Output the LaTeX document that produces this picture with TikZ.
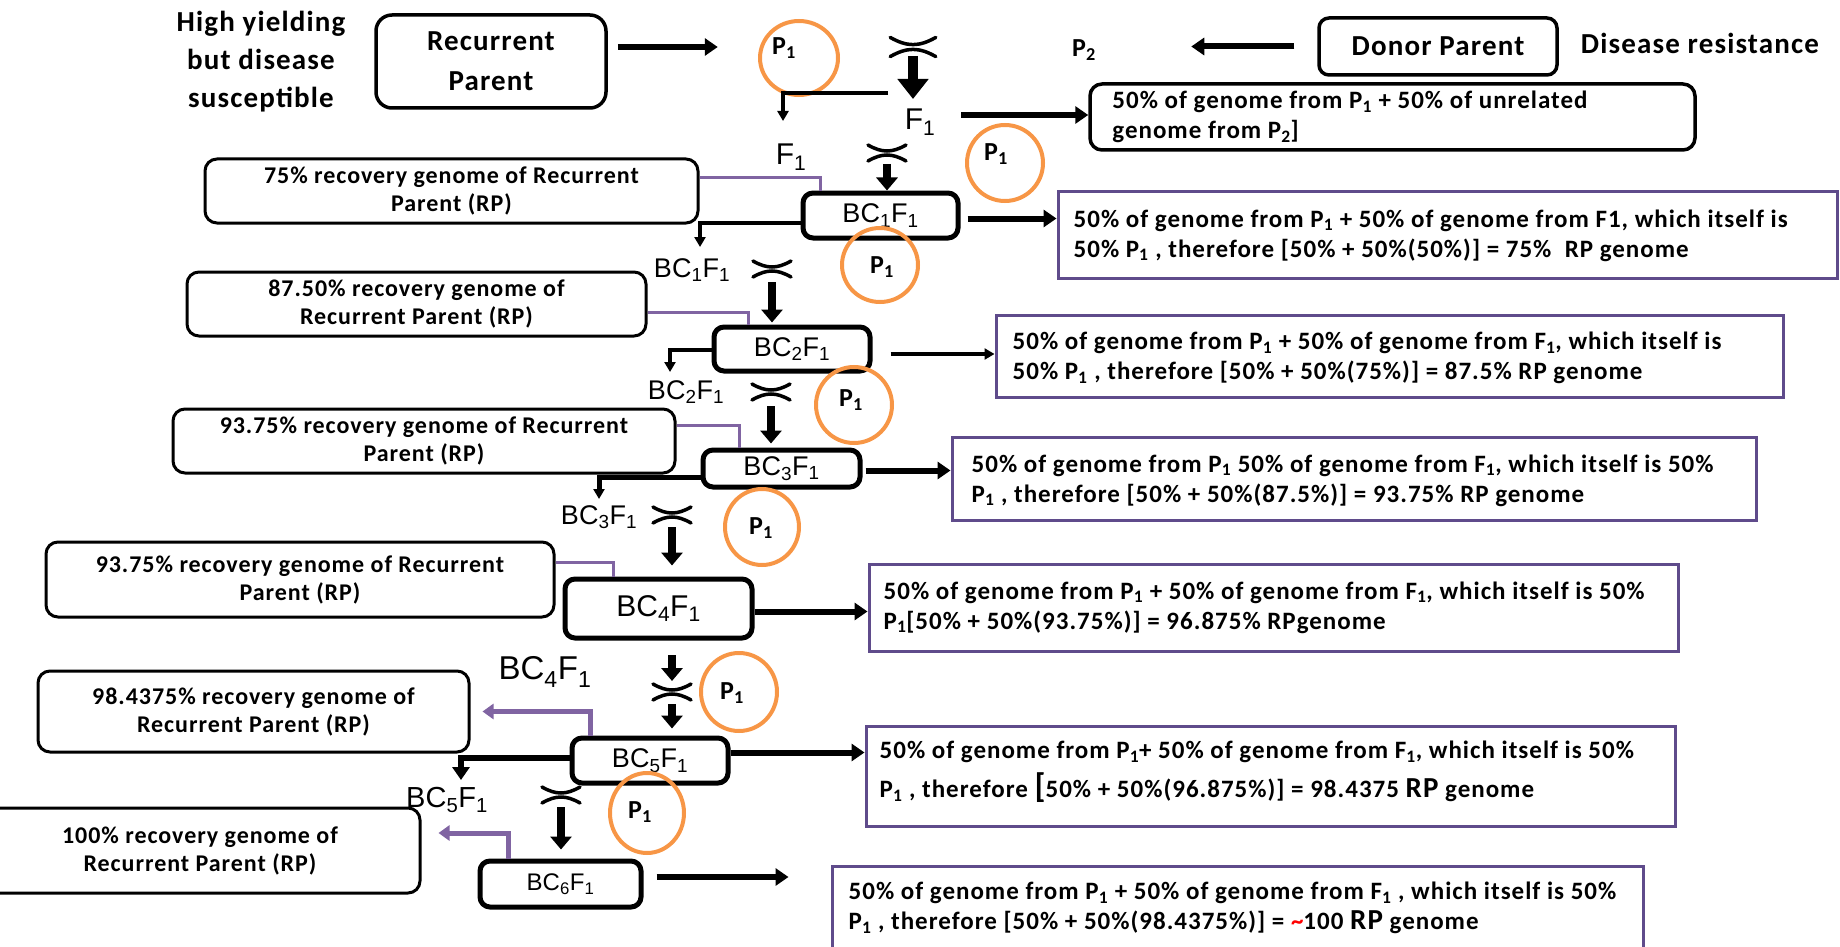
\documentclass[tikz,border=0pt]{standalone}
\usepackage{fontspec}
\setmainfont{Carlito}[LetterSpace=4]
\newfontfamily\arl{Liberation Sans}
\usetikzlibrary{arrows.meta,shapes.geometric}
\definecolor{pborder}{HTML}{5F4B8B}
\definecolor{plinec}{HTML}{8064A2}
\definecolor{orng}{HTML}{F79646}
\tikzset{
  brcross/.pic={\draw[line width=3.5pt,line cap=round] (-19,-8) .. controls (-5,0) and (5,0) .. (19,-8) (-19,8) .. controls (-5,0) and (5,0) .. (19,8);},
}
\begin{document}
\begin{tikzpicture}[x=1pt,y=-1pt,
  tlabel/.style={font=\fontsize{29}{38}\selectfont\bfseries,align=center,inner sep=0pt},
  topbox/.style={draw,line width=3.5pt,rounded corners=16pt,font=\fontsize{29}{40}\selectfont\bfseries,align=center,inner sep=0pt},
  lbox/.style={draw,line width=3pt,rounded corners=12pt,font=\fontsize{24}{28}\selectfont\bfseries,align=center,inner sep=0pt},
  bcbox/.style={draw,line width=5pt,rounded corners=10pt,font=\arl\fontsize{27}{30}\selectfont,inner sep=0pt},
  rbox/.style={draw=pborder,line width=3pt,inner sep=0pt},
  rtext/.style={font=\fontsize{25}{30}\selectfont\bfseries,align=left,anchor=west,inner sep=0pt},
  gen/.style={font=\arl\fontsize{27}{30}\selectfont,inner sep=0pt},
  pone/.style={font=\fontsize{26}{28}\selectfont\bfseries,inner sep=0pt},
  oc/.style={draw=orng,line width=4pt,ellipse,inner sep=0pt},
  harrow/.style={line width=6pt,-{Triangle[length=13pt,width=17pt]}},
  tarrow/.style={line width=3.5pt,-{Triangle[length=10pt,width=11pt]}},
  darrow/.style={line width=8pt,-{Triangle[length=13pt,width=21pt]}},
  bigdarrow/.style={line width=10pt,-{Triangle[length=20pt,width=30pt]}},
  pconn/.style={draw=plinec,line width=3pt},
  parrow/.style={draw=plinec,line width=5pt,-{Triangle[length=11pt,width=15pt]}},
]
\useasboundingbox (0,0) rectangle (1840,947);

% ---------- top row ----------
\node[tlabel] (hy) at (261,62) {High yielding\\but disease\\susceptible};
\node[topbox,minimum width=230pt,minimum height=93pt] (rp) at (491,61.5) {Recurrent\\Parent};
\node[topbox,minimum width=238pt,minimum height=57pt,rounded corners=10pt] (dp) at (1438,46.5) {Donor Parent};
\node[tlabel] (dr) at (1700,43) {Disease resistance};
\node[pone] (p1a) at (784,48) {P\textsubscript{1}};
\node[pone] (p2) at (1084,50) {P\textsubscript{2}};
\node[oc,minimum width=78pt,minimum height=74pt] (c1) at (799,58) {};

\coordinate (x0) at (913,47);
\coordinate (x1) at (887,153);
\coordinate (x2) at (772,269);
\coordinate (x3) at (771,392);
\coordinate (x4) at (672,515);
\coordinate (x5) at (672,692);
\coordinate (x6) at (561,795);
\pic[scale=1.2] at (x0) {brcross};
\pic at (x1) {brcross};
\pic at (x2) {brcross};
\pic at (x3) {brcross};
\pic at (x4) {brcross};
\pic at (x5) {brcross};
\pic at (x6) {brcross};

\node[gen,font=\arl\fontsize{30}{32}\selectfont] (f1a) at (920,122) {F\textsubscript{1}};
\node[gen,font=\arl\fontsize{30}{32}\selectfont] (f1b) at (791,157) {F\textsubscript{1}};

% ---------- central boxes ----------
\node[bcbox,minimum width=155pt,minimum height=45pt] (bc1) at (880.5,215.5) {BC\textsubscript{1}F\textsubscript{1}};
\node[bcbox,minimum width=156pt,minimum height=44pt] (bc2) at (792,349) {BC\textsubscript{2}F\textsubscript{1}};
\node[bcbox,minimum width=157pt,minimum height=37pt] (bc3) at (781.5,468.5) {BC\textsubscript{3}F\textsubscript{1}};
\node[bcbox,minimum width=187pt,minimum height=59pt,font=\arl\fontsize{30}{32}\selectfont] (bc4) at (658.5,608.5) {BC\textsubscript{4}F\textsubscript{1}};
\node[bcbox,minimum width=156pt,minimum height=45pt] (bc5) at (650,760.5) {BC\textsubscript{5}F\textsubscript{1}};
\node[bcbox,minimum width=161pt,minimum height=46pt,font=\arl\fontsize{24}{26}\selectfont] (bc6) at (560.5,884) {BC\textsubscript{6}F\textsubscript{1}};

% ---------- side labels ----------
\node[gen] (l1) at (692,270) {BC\textsubscript{1}F\textsubscript{1}};
\node[gen] (l2) at (686,392) {BC\textsubscript{2}F\textsubscript{1}};
\node[gen] (l3) at (599,517) {BC\textsubscript{3}F\textsubscript{1}};
\node[gen,font=\arl\fontsize{33}{35}\selectfont] (l4) at (545,672) {BC\textsubscript{4}F\textsubscript{1}};
\node[gen,font=\arl\fontsize{29}{31}\selectfont] (l5) at (447,800) {BC\textsubscript{5}F\textsubscript{1}};

% ---------- left boxes ----------
\node[lbox,minimum width=493pt,minimum height=64pt] (lb1) at (451.5,191) {75\% recovery genome of Recurrent\\Parent (RP)};
\node[lbox,minimum width=459pt,minimum height=64pt] (lb2) at (416.5,304) {87.50\% recovery genome of\\Recurrent Parent (RP)};
\node[lbox,minimum width=502pt,minimum height=64pt] (lb3) at (424,441) {93.75\% recovery genome of Recurrent\\Parent (RP)};
\node[lbox,minimum width=508pt,minimum height=75pt] (lb4) at (300,579.5) {93.75\% recovery genome of Recurrent\\Parent (RP)};
\node[lbox,minimum width=431pt,minimum height=81pt] (lb5) at (253.5,711.5) {98.4375\% recovery genome of\\Recurrent Parent (RP)};
\node[lbox,minimum width=440pt,minimum height=85pt] (lb6) at (200,850.5) {100\% recovery genome of\\Recurrent Parent (RP)};

% ---------- right boxes ----------
\node[draw,line width=3.5pt,rounded corners=12pt,minimum width=605pt,minimum height=66pt,inner sep=0pt] (rb1) at (1392.5,117) {};
\node[rbox,minimum width=779pt,minimum height=87pt] (rb2) at (1447.5,234.5) {};
\node[rbox,minimum width=787pt,minimum height=82pt] (rb3) at (1389.5,356) {};
\node[rbox,minimum width=804pt,minimum height=83pt] (rb4) at (1354,478.5) {};
\node[rbox,minimum width=809pt,minimum height=87pt] (rb5) at (1273.5,607.5) {};
\node[rbox,minimum width=809pt,minimum height=100pt] (rb6) at (1270.5,776) {};
\node[rbox,minimum width=811pt,minimum height=84pt] (rb7) at (1237.5,908) {};

\node[rtext] (rb1t) at ([xshift=24pt]rb1.west) {50\% of genome from P\textsubscript{1} + 50\% of unrelated\\genome from P\textsubscript{2}]};
\node[rtext] (rb2t) at ([xshift=17pt,yshift=-1pt]rb2.west) {50\% of genome from P\textsubscript{1} + 50\% of genome from F1, which itself is\\50\% P\textsubscript{1} , therefore [50\% + 50\%(50\%)] = 75\%\ \ RP genome};
\node[rtext] (rb3t) at ([xshift=18pt,yshift=-2pt]rb3.west) {50\% of genome from P\textsubscript{1} + 50\% of genome from F\textsubscript{1}, which itself is\\50\% P\textsubscript{1} , therefore [50\% + 50\%(75\%)] = 87.5\% RP genome};
\node[rtext] (rb4t) at ([xshift=21pt,yshift=-2pt]rb4.west) {50\% of genome from P\textsubscript{1} 50\% of genome from F\textsubscript{1}, which itself is 50\%\\P\textsubscript{1} , therefore [50\% + 50\%(87.5\%)] = 93.75\% RP genome};
\node[rtext] (rb5t) at ([xshift=16pt]rb5.west) {50\% of genome from P\textsubscript{1} + 50\% of genome from F\textsubscript{1}, which itself is 50\%\\P\textsubscript{1}[50\% + 50\%(93.75\%)] = 96.875\% RPgenome};
\node[rtext,font=\fontsize{25}{39}\selectfont\bfseries] (rb6t) at ([xshift=15pt,yshift=4pt]rb6.west) {50\% of genome from P\textsubscript{1}+ 50\% of genome from F\textsubscript{1}, which itself is 50\%\\P\textsubscript{1} , therefore {\fontsize{34}{39}\selectfont[}50\% + 50\%(96.875\%)] = 98.4375 {\fontsize{29}{39}\selectfont RP} genome};
\node[rtext] (rb7t) at ([xshift=18pt]rb7.west) {50\% of genome from P\textsubscript{1} + 50\% of genome from F\textsubscript{1} , which itself is 50\%\\P\textsubscript{1} , therefore [50\% + 50\%(98.4375\%)] = {\color{red}\textasciitilde}100 {\fontsize{29}{30}\selectfont RP} genome};

% ---------- orange circles with P1 ----------
\node[oc,minimum width=76pt,minimum height=76pt] (c2) at (1005,163) {};
\node[pone] (p1b) at (996,154) {P\textsubscript{1}};
\node[oc,minimum width=76pt,minimum height=74pt] (c3) at (880,265) {};
\node[pone] (p1c) at (882,267) {P\textsubscript{1}};
\node[oc,minimum width=76pt,minimum height=76pt] (c4) at (854,405) {};
\node[pone] (p1d) at (851,400) {P\textsubscript{1}};
\node[oc,minimum width=74pt,minimum height=76pt] (c5) at (762,527) {};
\node[pone] (p1e) at (761,528) {P\textsubscript{1}};
\node[oc,minimum width=76pt,minimum height=78pt] (c6) at (739,692) {};
\node[pone] (p1f) at (732,693) {P\textsubscript{1}};
\node[oc,minimum width=74pt,minimum height=80pt] (c7) at (647,813) {};
\node[pone] (p1g) at (640,812) {P\textsubscript{1}};

% ---------- horizontal connectors ----------
\draw[harrow] ([xshift=10pt,yshift=14.5pt]rp.east) -- ++(100,0);
\draw[harrow] ([xshift=-23pt]dp.west) -- ++(-103,0);
\draw[harrow] ([xshift=-127pt,yshift=2pt]rb1.west) -- ([yshift=2pt]rb1.west);
\draw[harrow,shorten <=7pt] ([yshift=-3pt]bc1.east) -- ([yshift=-3pt]bc1.east -| rb2.west);
\draw[tarrow,shorten <=18pt] ([yshift=-5pt]bc2.east) -- ([yshift=-5pt]bc2.east -| rb3.west);
\draw[harrow,shorten <=3pt] ([yshift=-2pt]bc3.east) -- ([yshift=-2pt]bc3.east -| rb4.west);
\draw[harrow] ([yshift=-3pt]bc4.east) -- ([yshift=-3pt]bc4.east -| rb5.west);
\draw[harrow] ([yshift=8pt]bc5.east) -- ([yshift=8pt]bc5.east -| rb6.west);
\draw[harrow,shorten <=13pt] ([yshift=7pt]bc6.east) -- ++(145,0);

% ---------- down arrows ----------
\draw[bigdarrow] ([yshift=-9pt]x0) -- ([yshift=-52pt]x0);
\draw[darrow] ([yshift=-11pt]x1) -- (x1 |- bc1.north);
\draw[darrow,shorten >=2pt] ([yshift=-13pt]x2) -- (x2 |- bc2.north);
\draw[darrow,shorten >=4pt] ([yshift=-14pt]x3) -- (x3 |- bc3.north);
\draw[darrow,shorten >=11pt] ([yshift=-12pt]x4) -- (x4 |- bc4.north);
\draw[darrow] ([yshift=37pt]x5) -- ([yshift=11pt]x5);
\draw[darrow,shorten >=7pt] ([yshift=-12pt]x5) -- (x5 |- bc5.north);
\draw[darrow,shorten >=9pt] ([yshift=-12pt]x6) -- (x6 |- bc6.north);

% ---------- branch connectors ----------
\coordinate (j0) at (888,93);
\coordinate (e0) at (783,121);
\coordinate (e1) at (700,247);
\coordinate (e2) at (670,372);
\coordinate (e3) at (599,499);
\coordinate (e4) at (461,780);
\draw[tarrow,line width=4.5pt] (j0) -| (e0);
\draw[tarrow,line width=4.5pt] ([yshift=-7.5pt]bc1.west) -| (e1);
\draw[tarrow,line width=4.5pt] ([yshift=-1pt]bc2.west) -| (e2);
\draw[tarrow,line width=5pt] ([yshift=-8.5pt]bc3.west) -| (e3);
\draw[harrow] ([yshift=2.5pt]bc5.west) -| (e4);

% ---------- purple connectors ----------
\draw[pconn] ([yshift=13pt]lb1.east) -| ([xshift=-60.5pt]bc1.north);
\draw[pconn] ([yshift=-8pt]lb2.east) -| ([xshift=-44pt]bc2.north);
\draw[pconn] ([yshift=16pt]lb3.east) -| ([xshift=-42.5pt]bc3.north);
\draw[pconn] ([yshift=17.5pt]lb4.east) -| ([xshift=-45.5pt]bc4.north);
\draw[parrow] ([xshift=-60pt]bc5.north) |- ([xshift=12pt]lb5.east);
\draw[parrow] ([xshift=-52.5pt]bc6.north) |- ([xshift=17pt,yshift=17.5pt]lb6.east);
\end{tikzpicture}
\end{document}
